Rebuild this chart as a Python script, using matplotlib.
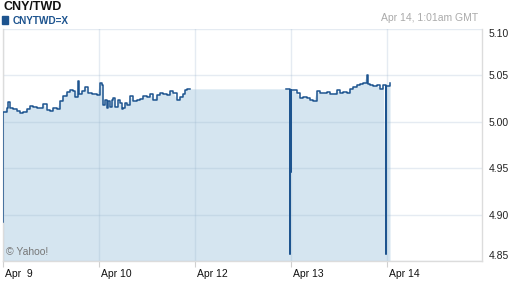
import matplotlib
matplotlib.use("Agg")
import matplotlib.pyplot as plt
import matplotlib.transforms as mtransforms
from matplotlib.patches import Rectangle
import numpy as np

plt.rcParams['font.family'] = ['Liberation Sans', 'DejaVu Sans']

title = "CNY/TWD"
series_name = "CNYTWD=X"
timestamp = "Apr 14, 1:01am GMT"
credit = "\u00a9 Yahoo!"

# hours since Apr 9 00:00 (compressed trading axis, 24 h per label)
tick_hours = [0, 24, 48, 72, 96]
tick_labels = ["Apr  9", "Apr 10", "Apr 12", "Apr 13", "Apr 14"]
y_ticks = [4.85, 4.90, 4.95, 5.00, 5.05, 5.10]

# first segment (Apr 9 – Apr 10)
t1 = [0.0, 0.005, 0.9, 1.3, 1.75, 2.6, 3.4, 4.25, 5.1, 5.9, 6.75, 7.6, 8.4, 9.25,
      10.1, 10.9, 11.75, 12.6, 13.4, 14.25, 15.1, 15.9, 16.75, 17.6, 18.0, 18.8,
      19.0, 19.7, 20.5, 21.3, 22.2, 23.4, 24.25, 24.7, 25.1, 25.5, 25.9, 26.3,
      26.75, 27.2, 27.6, 28.0, 28.4, 28.8, 29.25, 29.7, 30.1, 30.5, 30.9, 31.75,
      32.6, 33.4, 34.25, 35.1, 35.9, 36.75, 37.6, 38.4, 39.25, 40.1, 40.9, 41.75,
      42.6, 43.4, 44.25, 45.1, 45.5, 45.9, 46.75]
v1 = [4.892, 5.011, 5.015, 5.021, 5.015, 5.014, 5.012, 5.010, 5.011, 5.014,
      5.017, 5.016, 5.015, 5.015, 5.0196, 5.013, 5.012, 5.015, 5.014, 5.022,
      5.028, 5.032, 5.034, 5.033, 5.027, 5.044, 5.030, 5.033, 5.038, 5.031,
      5.030, 5.029, 5.042, 5.040, 5.0185, 5.024, 5.015, 5.022, 5.016, 5.024,
      5.026, 5.016, 5.016, 5.023, 5.020, 5.014, 5.015, 5.020, 5.018, 5.0275,
      5.022, 5.024, 5.025, 5.028, 5.027, 5.030, 5.023, 5.029, 5.031, 5.030,
      5.029, 5.033, 5.031, 5.024, 5.027, 5.030, 5.034, 5.035, 5.0355]

# second segment (Apr 13 – Apr 14)
t2 = [70.75, 71.75, 71.85, 71.855, 71.95, 71.955, 72.1, 72.6, 73.4, 74.25, 75.1,
      75.9, 76.75, 77.6, 78.4, 79.25, 80.1, 80.9, 81.75, 82.6, 83.4, 84.25, 85.1,
      85.9, 86.75, 87.6, 88.4, 89.25, 90.1, 90.9, 91.3, 91.75, 92.6, 93.4, 94.25,
      95.1, 95.75, 95.755, 95.9, 96.75]
v2 = [5.0355, 5.034, 4.858, 5.034, 4.946, 5.034, 5.034, 5.034, 5.031, 5.026,
      5.027, 5.026, 5.024, 5.022, 5.033, 5.031, 5.031, 5.032, 5.030, 5.030,
      5.034, 5.031, 5.032, 5.031, 5.0355, 5.038, 5.040, 5.041, 5.042, 5.050,
      5.041, 5.040, 5.039, 5.040, 5.0355, 5.040, 4.858, 5.039, 5.039, 5.042]

line_color = "#1d548f"
fill_color = "#d5e5f0"

fig = plt.figure(figsize=(5.12, 2.88), dpi=100)
W, H = 512, 288
ax = fig.add_axes([3 / W, 1 - 261 / H, (482 - 3) / W, (261 - 29) / H])

t_all = np.array(t1 + t2)
v_all = np.array(v1 + v2)
ax.fill_between(t_all, v_all, 4.85, color=fill_color, linewidth=0, zorder=1)
ax.plot(t1, v1, color=line_color, linewidth=1.1, drawstyle="steps-post", zorder=3)
ax.plot(t2, v2, color=line_color, linewidth=1.1, drawstyle="steps-post", zorder=3)

ax.set_xlim(0, 119.75)
ax.set_ylim(4.85, 5.10)

ax.grid(True, color=(0.6, 0.7, 0.8), alpha=0.25, linewidth=1.0)
ax.set_axisbelow("line")

ax.spines["top"].set_visible(False)
for side in ["left", "right", "bottom"]:
    ax.spines[side].set_color("#dcdcdc")
    ax.spines[side].set_linewidth(1.0)

ax.set_xticks(tick_hours)
ax.set_xticklabels(tick_labels, fontsize=7.5, color="#111111")
ax.tick_params(axis="x", length=4, color="#d0d0d0", pad=2)
offset = mtransforms.ScaledTranslation(2 / 100, 0, fig.dpi_scale_trans)
for lab in ax.get_xticklabels():
    lab.set_horizontalalignment("left")
    lab.set_transform(lab.get_transform() + offset)

ax.yaxis.tick_right()
ax.set_yticks(y_ticks)
ax.set_yticklabels([f"{v:.2f}" for v in y_ticks], fontsize=7.5, color="#222222")
ax.tick_params(axis="y", length=0, pad=5)
labs = ax.get_yticklabels()
labs[0].set_verticalalignment("bottom")
labs[-1].set_verticalalignment("top")

fig.text(3 / W, 1 - 6.5 / H, title, fontsize=9, fontweight="bold",
         color="#111111", va="center", ha="left")
fig.patches.append(Rectangle((2.3 / W, 1 - 24 / H), 5.7 / W, 8 / H,
                             transform=fig.transFigure, color=line_color))
fig.text(13 / W, 1 - 20.5 / H, series_name, fontsize=7.2, fontweight="bold",
         color=line_color, va="center", ha="left")
fig.text(478 / W, 1 - 18 / H, timestamp, fontsize=7.5, color="#aaaaaa",
         va="center", ha="right")
fig.text(6 / W, 1 - 252 / H, credit, fontsize=7.5, color="#777777",
         va="center", ha="left")

fig.savefig("out.png", dpi=100)
